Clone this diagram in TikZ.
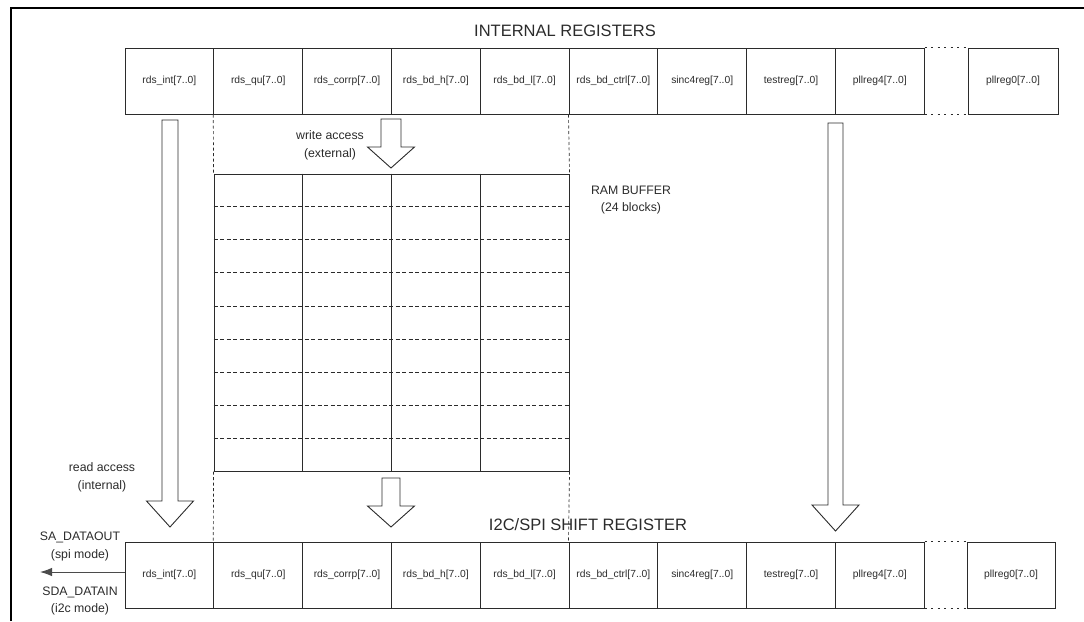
\documentclass[tikz,border=0pt]{standalone}
\usepackage{fontspec}
\setmainfont{Liberation Sans}
\usetikzlibrary{arrows.meta,calc}
\definecolor{ink}{HTML}{2B2B2B}
\newcommand{\hollowdown}[5]{%
  \draw[blockarr] ({#1-#5},#2) -- ({#1+#5},#2) -- ({#1+#5},#3) -- ({#1+23.5},#3)
    -- (#1,#4) -- ({#1-23.5},#3) -- ({#1-#5},#3) -- cycle;}
\begin{document}
\begin{tikzpicture}[x=1pt,y=-1pt,
  reg/.style={draw=ink, line width=1pt, minimum width=88.8pt, minimum height=66pt,
    inner sep=0pt, font=\fontsize{10.3}{12}\selectfont, text=ink},
  lbl/.style={font=\fontsize{12.3}{17.5}\selectfont, align=center, text=ink, inner sep=0pt},
  head/.style={font=\fontsize{16.5}{20}\selectfont, text=ink, inner sep=0pt},
  guide/.style={draw=ink, line width=0.7pt, dash pattern=on 3pt off 2.5pt},
  dots/.style={draw=ink, line width=1pt, dash pattern=on 2pt off 4.5pt},
  rowline/.style={draw=ink, line width=0.8pt, dash pattern=on 4pt off 2.5pt},
  gridline/.style={draw=ink, line width=1pt},
  blockarr/.style={draw=ink, line width=0.9pt, fill=white, line join=miter}]
\useasboundingbox (0,0) rectangle (1084,621);
% frame
\draw[line width=2pt, black] (11,621) -- (11,8.3) -- (1084,8.3);
% headings
\node[head] (ir) at (565,31) {INTERNAL REGISTERS};
% registers
\foreach \t [count=\i] in {rds\_int[7..0],rds\_qu[7..0],rds\_corrp[7..0],rds\_bd\_h[7..0],rds\_bd\_l[7..0],rds\_bd\_ctrl[7..0],sinc4reg[7..0],testreg[7..0],pllreg4[7..0]} {
  \node[reg] (t\i) at ({125+88.8*(\i-0.5)},81) {\t};
  \node[reg] (b\i) at ({125+88.8*(\i-0.5)},575) {\t};
}
\node[reg, minimum width=90pt] (t10) at (1013,81) {pllreg0[7..0]};
\node[reg, minimum width=88pt] (b10) at (1011,575) {\raisebox{-3pt}{pllreg0[7..0]}};
\draw[dots] (t9.north east) -- (t10.north west);
\draw[dots] (t9.south east) -- (t10.south west);
\draw[dots] (b9.north east) -- (b10.north west);
\draw[dots] (b9.south east) -- (b10.south west);
% RAM buffer
\node[draw=ink, line width=1pt, minimum width=355pt, minimum height=297pt, inner sep=0pt] (ram) at (391.5,322.5) {};
\foreach \k in {1,2,3}
  \draw[gridline] ($(ram.north west)!\k/4!(ram.north east)$) -- ($(ram.south west)!\k/4!(ram.south east)$);
\foreach \k in {1,...,8}
  \draw[rowline] ($(ram.north west)!\k/9!(ram.south west)$) -- ($(ram.north east)!\k/9!(ram.south east)$);
\node[lbl] (rb) at (631,200) {RAM BUFFER\\(24 blocks)};
% guides
\draw[guide] (t2.south west) -- (ram.north west);
\draw[guide] (t6.south west) -- (ram.north east);
\draw[guide] (ram.south west) -- (b2.north west);
\draw[guide] (ram.south east) -- (b6.north west);
% block arrows
\hollowdown{170}{120}{501}{527}{8}
\hollowdown{391}{119}{147}{168}{10}
\hollowdown{391}{478}{506}{527}{9}
\hollowdown{835.5}{123}{505}{531}{7.5}
\node[lbl] (wr) at (330,145.5) {write access\\(external)};
\node[lbl] (rd) at (102,477.5) {read access\\(internal)};
\node[head] (sr) at (588,525) {I2C/SPI SHIFT REGISTER};
% serial output
\coordinate (saend) at (40,572);
\draw[ink!85, line width=1pt, -{Latex[length=12pt,width=8.5pt]}] (b1.west |- saend) -- (saend);
\node[lbl] (sa) at (80,546.5) {SA\_DATAOUT\\(spi mode)};
\node[lbl] (sda) at (80,601) {SDA\_DATAIN\\(i2c mode)};
\end{tikzpicture}
\end{document}
